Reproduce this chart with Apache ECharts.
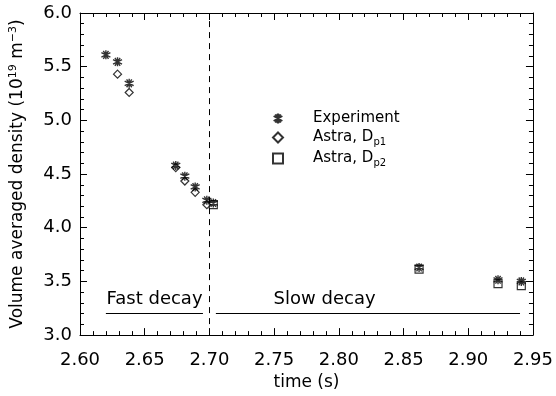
<!DOCTYPE html>
<html>
<head>
<meta charset="utf-8">
<script src="https://cdn.jsdelivr.net/npm/echarts@6/dist/echarts.min.js"></script>
<style>
  html, body { margin: 0; padding: 0; background: #fff; }
  #chart { width: 556px; height: 396px; }
</style>
</head>
<body>
<div id="chart"></div>
<script>
// measured points
var expTime = [2.620, 2.629, 2.638, 2.674, 2.681, 2.689, 2.698, 2.703, 2.862, 2.923, 2.941]
var expDensity = [5.61, 5.545, 5.345, 4.58, 4.48, 4.38, 4.255, 4.23, 3.63, 3.515, 3.50]

// Astra, Dp1
var dp1Time = [2.629, 2.638, 2.674, 2.681, 2.689, 2.698]
var dp1Density = [5.43, 5.26, 4.56, 4.435, 4.33, 4.215]

// Astra, Dp2
var dp2Time = [2.703, 2.862, 2.923, 2.941]
var dp2Density = [4.215, 3.615, 3.48, 3.46]

var seriesNames = ['Experiment', 'Astra, Dp1', 'Astra, Dp2']
var phaseNames = ['Fast decay', 'Slow decay']
var phaseStart = [2.620, 2.705]
var phaseEnd = [2.695, 2.940]
var phaseLevel = 3.2
var phaseLabelTime = [2.6576, 2.789]
var phaseLabelLevel = 3.335
var splitTime = 2.70

function pairs (xs, ys) {
  return xs.map(function (x, i) { return [x, ys[i]] })
}

var FONT = 'DejaVu Sans'
var asterisk = 'path://M0,-1L0,1M-0.87,-0.5L0.87,0.5M-0.87,0.5L0.87,-0.5M-0.5,-0.87L0.5,0.87M0.5,-0.87L-0.5,0.87'

var axisCommon = {
  type: 'value',
  axisLine: { show: true, onZero: false, lineStyle: { color: '#000', width: 1 } },
  axisTick: { show: true, inside: true, length: 7, lineStyle: { color: '#000' } },
  minorTick: { show: true, splitNumber: 5, length: 4, lineStyle: { color: '#000' } },
  splitLine: { show: false },
  minorSplitLine: { show: false }
}

var chart = echarts.init(document.getElementById('chart'))

var phaseLines = phaseNames.map(function (n, i) {
  return [
    { coord: [phaseStart[i], phaseLevel], lineStyle: { color: '#000', width: 1, type: 'solid' } },
    { coord: [phaseEnd[i], phaseLevel] }
  ]
})
var phaseLabels = phaseNames.map(function (n, i) {
  return { name: n, coord: [phaseLabelTime[i], phaseLabelLevel] }
})

var option = {
  animation: false,
  grid: { left: 80, right: 19, top: 13, bottom: 60 },
  legend: {
    data: seriesNames,
    orient: 'vertical',
    left: 267,
    top: 106,
    itemWidth: 10,
    itemHeight: 10,
    itemGap: 4,
    selectedMode: false,
    formatter: function (n) {
      if (n.indexOf('Astra') === 0) {
        return 'Astra, D{sub|' + n.slice(-2) + '}'
      }
      return n
    },
    textStyle: {
      fontFamily: FONT,
      fontSize: 15,
      color: '#000',
      padding: [0, 0, 0, 25],
      rich: {
        sub: { fontFamily: FONT, fontSize: 10, color: '#000', padding: [9, 0, 0, 0] }
      }
    }
  },
  xAxis: [
    Object.assign({}, axisCommon, {
      position: 'bottom',
      min: 2.60, max: 2.95, interval: 0.05,
      name: 'time (s)',
      nameLocation: 'middle',
      nameGap: 34,
      nameTextStyle: { fontFamily: FONT, fontSize: 17, color: '#000' },
      axisLabel: {
        margin: 16, fontFamily: FONT, fontSize: 18, color: '#000',
        formatter: function (v) { return v.toFixed(2) }
      }
    }),
    Object.assign({}, axisCommon, {
      position: 'top',
      min: 2.60, max: 2.95, interval: 0.05,
      axisLabel: { show: false }
    })
  ],
  yAxis: [
    Object.assign({}, axisCommon, {
      position: 'left',
      min: 3.0, max: 6.0, interval: 0.5,
      name: 'Volume averaged density (10{sup|19} m{sup|\u22123})',
      nameLocation: 'middle',
      nameGap: 52,
      nameTextStyle: {
        fontFamily: FONT, fontSize: 17, color: '#000',
        rich: { sup: { fontFamily: FONT, fontSize: 11, color: '#000', padding: [0, 0, 9, 0] } }
      },
      axisLabel: {
        margin: 8, fontFamily: FONT, fontSize: 18, color: '#000',
        formatter: function (v) { return v.toFixed(1) }
      }
    }),
    Object.assign({}, axisCommon, {
      position: 'right',
      min: 3.0, max: 6.0, interval: 0.5,
      axisLabel: { show: false }
    })
  ],
  series: [
    {
      name: seriesNames[2],
      type: 'scatter',
      data: pairs(dp2Time, dp2Density),
      symbol: 'rect',
      symbolSize: 8,
      itemStyle: { color: '#fff', borderColor: '#000', borderWidth: 1.2 },
      emphasis: { disabled: true },
      z: 2
    },
    {
      name: seriesNames[1],
      type: 'scatter',
      data: pairs(dp1Time, dp1Density),
      symbol: 'diamond',
      symbolSize: 8,
      itemStyle: { color: '#fff', borderColor: '#000', borderWidth: 1.2 },
      emphasis: { disabled: true },
      z: 3
    },
    {
      name: seriesNames[0],
      type: 'scatter',
      data: pairs(expTime, expDensity),
      symbol: asterisk,
      symbolSize: 9,
      itemStyle: { color: 'transparent', borderColor: '#000', borderWidth: 1.4 },
      emphasis: { disabled: true },
      z: 4,
      markLine: {
        silent: true,
        symbol: ['none', 'none'],
        label: { show: false },
        data: [
          { xAxis: splitTime, lineStyle: { color: '#000', width: 1, type: [6, 5] } }
        ].concat(phaseLines)
      },
      markPoint: {
        silent: true,
        symbol: 'circle',
        symbolSize: 0,
        label: {
          show: true, position: 'inside', formatter: '{b}',
          fontFamily: FONT, fontSize: 18, color: '#000'
        },
        data: phaseLabels
      }
    }
  ]
}

chart.setOption(option)
</script>
</body>
</html>
